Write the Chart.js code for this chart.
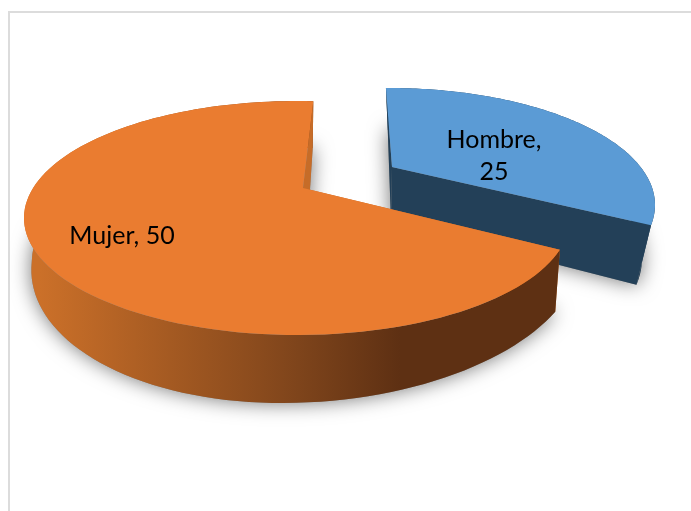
<!DOCTYPE html>
<html>
<head>
<meta charset="utf-8">
<script src="https://cdn.jsdelivr.net/npm/chart.js@4/dist/chart.umd.min.js"></script>
<style>
  body { margin: 0; background: #fff; }
  #wrap { position: relative; width: 691px; height: 511px; overflow: hidden; }
  #frame { position: absolute; left: 8px; top: 11px; right: -4px; bottom: -4px;
           border: 2px solid #dcdcdc; }
  canvas { position: absolute; left: 0; top: 0; }
</style>
</head>
<body>
<div id="wrap">
  <div id="frame"></div>
  <canvas id="chart" width="691" height="511"></canvas>
</div>
<script>
const categories = ["Hombre", "Mujer"];
const values = [25, 50];

// how each slice's disc sits on screen: ellipse of the top and bottom face,
// and where the disc centre lands (tip) because of the perspective.
// a/aR are the left/right half widths, b/bUp the near/far half heights,
// shear leans the near half, spin nudges the two cut edges (radians)
const slices = [
  {
    top: { cx: 389, cy: 205, a: 266, aR: 266, b: 117, bUp: 117, shear: 0, tipX: 392, tipY: 167, spin: [-0.03, -0.03] },
    bottom: { cx: 389, cy: 258, a: 253, aR: 253, b: 128, bUp: 128, shear: 0, tipX: 391, tipY: 222, spin: [-0.016, -0.04] },
    face: "#5b9bd5",
    side: ["#234058", "#234058", "#234058"],
    cut: "#234058",
    label: [494, 156],
    lines: 2,
  },
  {
    top: { cx: 297, cy: 218, a: 273, aR: 273, b: 117, bUp: 117, shear: 0, tipX: 303, tipY: 188, spin: [0, 0.052] },
    bottom: { cx: 300, cy: 260, a: 268, aR: 281, b: 143, bUp: 112, shear: 0.13, tipX: 307, tipY: 235, spin: [0.06, 0.027] },
    face: "#ea7c30",
    side: ["#cb7029", "#7e441b", "#5e3013"],
    cut: "#c66c28",
    label: [122, 236],
    lines: 1,
  },
];

// circle point -> screen point, moving the circle centre to the tip
function project(e, angle) {
  const px = (e.tipX - e.cx) / e.a;
  const py = (e.tipY - e.cy) / (e.tipY < e.cy ? e.bUp : e.b);
  const s = Math.hypot(px, py);
  const dx = px / s;
  const dy = py / s;
  const qx = Math.cos(angle);
  const qy = Math.sin(angle);
  const along = qx * dx + qy * dy;
  const w = 1 + s * along;
  const k = Math.sqrt(1 - s * s);
  const rx = ((along + s) * dx + k * (qx - along * dx)) / w;
  const ry = ((along + s) * dy + k * (qy - along * dy)) / w;
  const x = e.cx + (rx > 0 ? e.aR : e.a) * rx - e.shear * e.b * Math.max(ry, 0);
  return [x, e.cy + (ry < 0 ? e.bUp : e.b) * ry];
}

function arcPoints(e, arc) {
  const start = arc.startAngle + e.spin[0];
  const end = arc.endAngle + e.spin[1];
  const pts = [];
  const n = 120;
  for (let i = 0; i <= n; i++) {
    pts.push(project(e, start + ((end - start) * i) / n));
  }
  return pts;
}

function fillPoly(ctx, pts, color) {
  ctx.beginPath();
  pts.forEach((p, i) => (i ? ctx.lineTo(p[0], p[1]) : ctx.moveTo(p[0], p[1])));
  ctx.closePath();
  ctx.fillStyle = color;
  ctx.fill();
}

const pie3d = {
  id: "pie3d",
  beforeDatasetsDraw(chart) {
    const ctx = chart.ctx;
    const arcs = chart.getDatasetMeta(0).data;

    // soft shadow of the bottom faces goes first
    ctx.save();
    ctx.shadowColor = "rgba(0,0,0,0.55)";
    ctx.shadowBlur = 20;
    arcs.forEach((arc, i) => {
      const b = slices[i].bottom;
      fillPoly(ctx, [[b.tipX, b.tipY], ...arcPoints(b, arc)], "#888");
    });
    ctx.restore();

    arcs.forEach((arc, i) => {
      const sl = slices[i];
      const topArc = arcPoints(sl.top, arc);
      const botArc = arcPoints(sl.bottom, arc);
      const tipT = [sl.top.tipX, sl.top.tipY];
      const tipB = [sl.bottom.tipX, sl.bottom.tipY];

      fillPoly(ctx, [tipT, topArc[0], botArc[0], tipB], sl.cut);

      const grad = ctx.createLinearGradient(40, 0, 400, 0);
      grad.addColorStop(0, sl.side[0]);
      grad.addColorStop(0.72, sl.side[1]);
      grad.addColorStop(1, sl.side[2]);
      fillPoly(ctx, [...topArc, ...botArc.slice().reverse()], grad);

      // the closing cut is the far one, it stays visible as a sliver over the wall
      fillPoly(ctx, [tipT, topArc[topArc.length - 1], botArc[botArc.length - 1], tipB], sl.cut);

      fillPoly(ctx, [tipT, ...topArc], sl.face);
    });

    ctx.fillStyle = "#000";
    ctx.font = "25px Lato";
    ctx.textAlign = "center";
    ctx.textBaseline = "middle";
    arcs.forEach((arc, i) => {
      const sl = slices[i];
      if (sl.lines === 2) {
        ctx.fillText(categories[i] + ",", sl.label[0], sl.label[1] - 16);
        ctx.fillText(String(values[i]), sl.label[0], sl.label[1] + 16);
      } else {
        ctx.fillText(categories[i] + ", " + values[i], sl.label[0], sl.label[1]);
      }
    });
    return false;
  },
};

new Chart(document.getElementById("chart"), {
  type: "pie",
  data: {
    labels: categories,
    datasets: [{ data: values, backgroundColor: slices.map((s) => s.face) }],
  },
  options: {
    responsive: false,
    animation: false,
    plugins: {
      legend: { display: false },
      tooltip: { enabled: false },
    },
  },
  plugins: [pie3d],
});
</script>
</body>
</html>
